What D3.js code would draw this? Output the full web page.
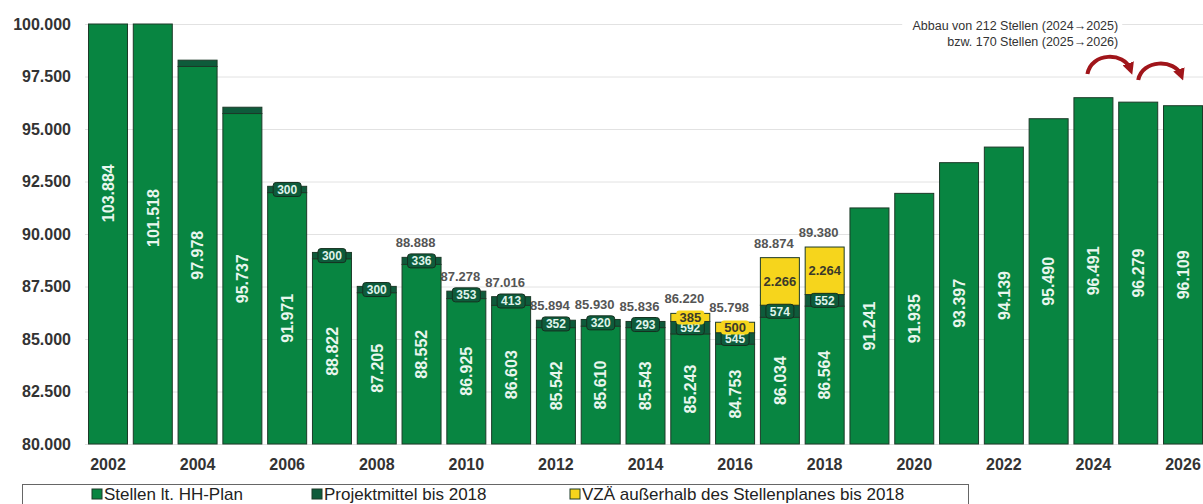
<!DOCTYPE html>
<html>
<head>
<meta charset="utf-8">
<script src="https://cdn.jsdelivr.net/npm/d3@7"></script>
<style>
  body { margin: 0; background: #ffffff; }
  svg { display: block; font-family: "Liberation Sans", Arial, sans-serif; }
</style>
</head>
<body>
<div id="chart"></div>
<script>
// Jahre (Kategorien)
const years = [2002, 2003, 2004, 2005, 2006, 2007, 2008, 2009, 2010, 2011, 2012, 2013, 2014,
               2015, 2016, 2017, 2018, 2019, 2020, 2021, 2022, 2023, 2024, 2025, 2026];

// Stellen lt. HH-Plan
const stellen = [103884, 101518, 97978, 95737, 91971, 88822, 87205, 88552, 86925, 86603, 85542, 85610, 85543,
                 85243, 84753, 86034, 86564, 91241, 91935, 93397, 94139, 95490, 96491, 96279, 96109];

// Projektmittel bis 2018
const projekt = [0, 0, 300, 300, 300, 300, 300, 336, 353, 413, 352, 320, 293,
                 592, 545, 574, 552, 0, 0, 0, 0, 0, 0, 0, 0];
// welche Projektmittel beschriftet sind
const projektLabels = [null, null, null, null, "300", "300", "300", "336", "353", "413", "352", "320", "293",
                       "592", "545", "574", "552", null, null, null, null, null, null, null, null];

// VZÄ außerhalb des Stellenplanes bis 2018
const vza = [0, 0, 0, 0, 0, 0, 0, 0, 0, 0, 0, 0, 0,
             385, 500, 2266, 2264, 0, 0, 0, 0, 0, 0, 0, 0];

// Summen über den Balken
const totals = [null, null, null, null, null, null, null, 88888, 87278, 87016, 85894, 85930, 85836,
                86220, 85798, 88874, 89380, null, null, null, null, null, null, null, null];

const yTicks = [80000, 82500, 85000, 87500, 90000, 92500, 95000, 97500, 100000];
const xTickYears = [2002, 2004, 2006, 2008, 2010, 2012, 2014, 2016, 2018, 2020, 2022, 2024, 2026];

const annotation = ["Abbau von 212 Stellen (2024\u21922025)", "bzw. 170 Stellen (2025\u21922026)"];
const legendItems = ["Stellen lt. HH-Plan", "Projektmittel bis 2018", "VZÄ außerhalb des Stellenplanes bis 2018"];

const width = 1203, height = 504;
const colors = { green: "#088541", dark: "#0e5b3b", yellow: "#f6d51c", border: "#1c3a28" };

const de = d3.formatLocale({ decimal: ",", thousands: ".", grouping: [3], currency: ["", "€"] });
const fmt = de.format(",");

const svg = d3.select("#chart").append("svg")
    .attr("width", width)
    .attr("height", height);

const x = d3.scaleBand()
    .domain(years)
    .range([85.6, 1205.4])
    .paddingInner(0.107)
    .paddingOuter(0.0535);

const y = d3.scaleLinear()
    .domain([80000, 100000])
    .range([444, 24])
    .clamp(true);

const yRaw = d3.scaleLinear().domain([80000, 100000]).range([444, 24]);
const bw = x.bandwidth();

// Gitterlinien
svg.append("g")
    .selectAll("line")
    .data(yTicks)
    .enter()
    .append("line")
    .attr("x1", 85)
    .attr("x2", width)
    .attr("y1", d => y(d) + 0.5)
    .attr("y2", d => y(d) + 0.5)
    .attr("stroke", "#e2e2e2")
    .attr("stroke-width", 1);

// Annotation oben rechts (mit weißem Hintergrund)
const annoX = x(2025);
svg.append("rect")
    .attr("x", annoX - 216)
    .attr("y", 15)
    .attr("width", 220)
    .attr("height", 34)
    .attr("fill", "#ffffff");

svg.append("g")
    .selectAll("text")
    .data(annotation)
    .enter()
    .append("text")
    .attr("x", annoX)
    .attr("y", (d, i) => 30 + i * 16)
    .attr("text-anchor", "end")
    .attr("font-size", "12.5px")
    .attr("fill", "#333333")
    .text(d => d);

const data = years.map((yr, i) => ({
    year: yr,
    base: stellen[i],
    proj: projekt[i],
    projLabel: projektLabels[i],
    vza: vza[i],
    total: totals[i]
}));

// Summen über den Balken
svg.append("g")
    .selectAll("text")
    .data(data.filter(d => d.total !== null))
    .enter()
    .append("text")
    .attr("x", d => x(d.year) + bw / 2 - 6)
    .attr("y", d => y(d.base + d.proj + d.vza) - 10)
    .attr("text-anchor", "middle")
    .attr("font-size", "13px")
    .attr("font-weight", "bold")
    .attr("fill", "#555555")
    .text(d => fmt(d.total));

// Balken
const bars = svg.append("g");

bars.selectAll(".base")
    .data(data)
    .enter()
    .append("rect")
    .attr("class", "base")
    .attr("x", d => x(d.year) + 0.5)
    .attr("y", d => y(d.base))
    .attr("width", bw - 1)
    .attr("height", d => y(80000) - y(d.base))
    .attr("fill", colors.green)
    .attr("stroke", colors.border)
    .attr("stroke-width", 1);

bars.selectAll(".proj")
    .data(data.filter(d => d.proj > 0))
    .enter()
    .append("rect")
    .attr("class", "proj")
    .attr("x", d => x(d.year) + 0.5)
    .attr("y", d => y(d.base + d.proj))
    .attr("width", bw - 1)
    .attr("height", d => y(d.base) - y(d.base + d.proj))
    .attr("fill", colors.dark)
    .attr("stroke", colors.border)
    .attr("stroke-width", 1);

bars.selectAll(".vza")
    .data(data.filter(d => d.vza > 0))
    .enter()
    .append("rect")
    .attr("class", "vza")
    .attr("x", d => x(d.year) + 0.5)
    .attr("y", d => y(d.base + d.proj + d.vza))
    .attr("width", bw - 1)
    .attr("height", d => y(d.base + d.proj) - y(d.base + d.proj + d.vza))
    .attr("fill", colors.yellow)
    .attr("stroke", colors.border)
    .attr("stroke-width", 1);

// Werte in den Balken (senkrecht)
bars.selectAll(".baseLabel")
    .data(data)
    .enter()
    .append("text")
    .attr("class", "baseLabel")
    .attr("transform", d => {
        const cy = (yRaw(d.base) + yRaw(80000)) / 2;
        return `translate(${x(d.year) + bw / 2},${cy}) rotate(-90)`;
    })
    .attr("text-anchor", "middle")
    .attr("dy", "0.36em")
    .attr("font-size", "16px")
    .attr("font-weight", "bold")
    .attr("fill", "#e9f6ee")
    .text(d => fmt(d.base));

// Projektmittel-Beschriftung
const projLab = bars.selectAll(".projLabel")
    .data(data.filter(d => d.projLabel !== null))
    .enter()
    .append("g")
    .attr("transform", d => `translate(${x(d.year) + bw / 2},${(y(d.base) + y(d.base + d.proj)) / 2})`);

projLab.append("rect")
    .attr("x", -14)
    .attr("y", -7)
    .attr("width", 28)
    .attr("height", 14)
    .attr("rx", 3)
    .attr("fill", colors.dark)
    .attr("stroke", "#16301f")
    .attr("stroke-width", 1);

projLab.append("text")
    .attr("text-anchor", "middle")
    .attr("dy", "0.36em")
    .attr("font-size", "12px")
    .attr("font-weight", "bold")
    .attr("fill", "#dff3ea")
    .text(d => d.projLabel);

// VZÄ-Beschriftung
const vzaLab = bars.selectAll(".vzaLabel")
    .data(data.filter(d => d.vza > 0))
    .enter()
    .append("g")
    .attr("transform", d => `translate(${x(d.year) + bw / 2},${(y(d.base + d.proj) + y(d.base + d.proj + d.vza)) / 2})`);

vzaLab.append("rect")
    .attr("x", -14)
    .attr("y", -7)
    .attr("width", 28)
    .attr("height", 14)
    .attr("rx", 3)
    .attr("fill", colors.yellow);

vzaLab.append("text")
    .attr("text-anchor", "middle")
    .attr("dy", "0.36em")
    .attr("font-size", "13px")
    .attr("font-weight", "bold")
    .attr("fill", "#3a3a2a")
    .text(d => fmt(d.vza));

// Y-Achse
svg.append("g")
    .attr("transform", "translate(85,0)")
    .call(d3.axisLeft(y).tickValues(yTicks).tickSize(0).tickPadding(14).tickFormat(d => fmt(d)))
    .call(g => g.select(".domain").remove())
    .selectAll("text")
    .attr("font-family", "\"Liberation Sans\", Arial, sans-serif")
    .attr("font-size", "16px")
    .attr("font-weight", "bold")
    .attr("fill", "#333333");

// X-Achse
svg.append("g")
    .attr("transform", "translate(0,444)")
    .call(d3.axisBottom(x).tickValues(xTickYears).tickSize(0).tickPadding(15))
    .call(g => g.select(".domain").remove())
    .selectAll("text")
    .attr("font-family", "\"Liberation Sans\", Arial, sans-serif")
    .attr("font-size", "16px")
    .attr("font-weight", "bold")
    .attr("fill", "#333333");

// Pfeile (Abbau)
const defs = svg.append("defs");
defs.append("marker")
    .attr("id", "arrowhead")
    .attr("viewBox", "0 0 10 10")
    .attr("refX", 5)
    .attr("refY", 5)
    .attr("markerWidth", 3)
    .attr("markerHeight", 3)
    .attr("orient", "auto")
    .append("path")
    .attr("d", "M0,0 L10,5 L0,10 z")
    .attr("fill", "#a0151a");

const arrows = [
    { x0: x(2024) + bw * 0.35, x1: x(2025) + bw * 0.3, yb: 74, yt: 52 },
    { x0: x(2025) + bw * 0.5, x1: x(2026) + bw * 0.45, yb: 80, yt: 59 }
];

svg.append("g")
    .selectAll("path")
    .data(arrows)
    .enter()
    .append("path")
    .attr("d", d => `M${d.x0},${d.yb} C${d.x0 + 4},${d.yt} ${d.x1 - 6},${d.yt} ${d.x1},${d.yb - 5}`)
    .attr("fill", "none")
    .attr("stroke", "#a0151a")
    .attr("stroke-width", 4)
    .attr("marker-end", "url(#arrowhead)");

// Legende
const legend = svg.append("g");
legend.append("rect")
    .attr("x", 22.5)
    .attr("y", 484.5)
    .attr("width", 946)
    .attr("height", 30)
    .attr("fill", "#ffffff")
    .attr("stroke", "#666666");

const legendX = [92, 312, 570];
const legendColors = [colors.green, colors.dark, colors.yellow];

const li = legend.selectAll(".item")
    .data(legendItems)
    .enter()
    .append("g")
    .attr("transform", (d, i) => `translate(${legendX[i]},489)`);

li.append("rect")
    .attr("width", 10)
    .attr("height", 10)
    .attr("fill", (d, i) => legendColors[i])
    .attr("stroke", colors.border);

li.append("text")
    .attr("x", 12)
    .attr("y", 10.5)
    .attr("font-size", "17px")
    .attr("fill", "#222222")
    .text(d => d);
</script>
</body>
</html>
